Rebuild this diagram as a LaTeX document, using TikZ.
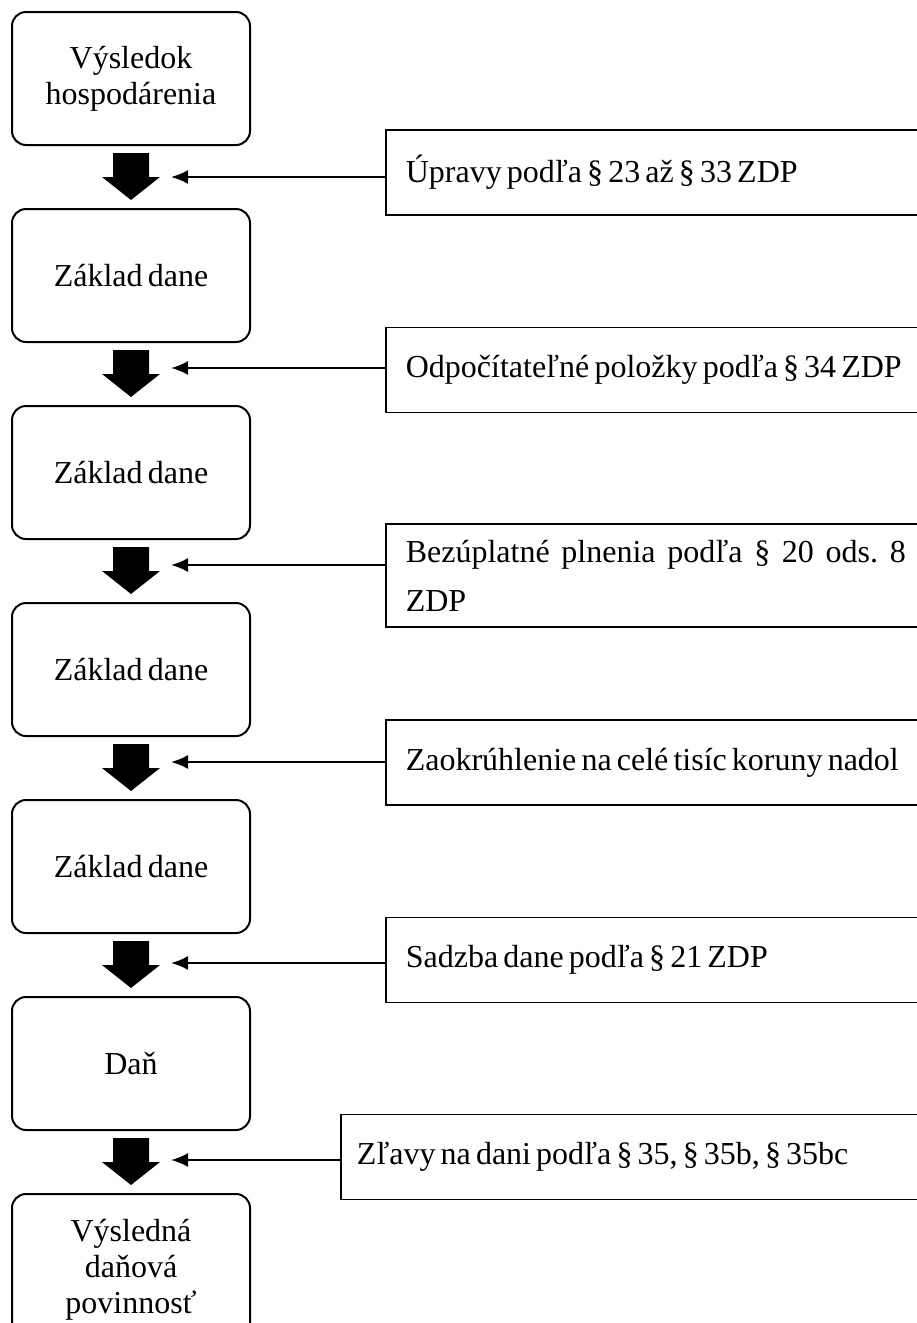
\documentclass[tikz,border=0pt]{standalone}
\usepackage{fontspec}
\setmainfont{Liberation Serif}
\usetikzlibrary{arrows.meta,calc}
\newcommand{\tightsp}{\frenchspacing\spaceskip=0.16em\relax}
\newcommand{\stretchsp}{\frenchspacing\spaceskip=0.16em plus 1em\relax}
\begin{document}
\begin{tikzpicture}[x=1pt,y=-1pt,
  stage/.style={draw, line width=2pt, rounded corners=14pt, minimum width=238pt, minimum height=133pt, align=center, font=\fontsize{32}{36}\selectfont\tightsp, inner sep=0pt},
  note/.style={draw, line width=1.6pt, anchor=west, minimum height=85pt, text width=520pt, inner xsep=20pt, inner ysep=0pt, align=flush left, font=\fontsize{32}{36}\selectfont\tightsp},
  feed/.style={line width=2pt, -{Latex[length=17pt,width=14pt]}},
  blockarrow/.style={fill=black, draw=none}
]
\useasboundingbox (0,0) rectangle (917,1323);
\clip (0,0) rectangle (917,1323);

% main column
\node[stage] (b1) at (131,78.5) {Výsledok\\hospodárenia};
\node[stage] (b2) at (131,275.5) {Základ dane};
\node[stage] (b3) at (131,472.5) {Základ dane};
\node[stage] (b4) at (131,669.5) {Základ dane};
\node[stage] (b5) at (131,866.5) {Základ dane};
\node[stage] (b6) at (131,1063.5) {Daň};
\node[stage, minimum height=152pt] (b7) at (131,1270) {Výsledná\\daňová\\povinnosť};

% side notes
\node[note] (n1) at (385,172.5) {Úpravy podľa § 23 až § 33 ZDP};
\node[note] (n2) at (385,370) {Odpočítateľné položky podľa § 34 ZDP};
\node[note, text width=500pt, minimum height=103pt, align=justify, font=\fontsize{32}{49}\selectfont\stretchsp] (n3) at (385,575.5) {\tolerance=10000 Bezúplatné plnenia podľa § 20 ods. 8 ZDP};
\node[note] (n4) at (385,762.5) {Zaokrúhlenie na celé tisíc koruny nadol};
\node[note] (n5) at (385,960) {Sadzba dane podľa § 21 ZDP};
\node[note, text width=560pt, inner xsep=16pt] (n6) at (340,1157) {Zľavy na dani podľa § 35, § 35b, § 35bc};

% block arrows
\foreach \a/\b in {b1/b2,b2/b3,b3/b4,b4/b5,b5/b6,b6/b7}{
  \fill[blockarrow] ($(\a.south)+(-18,7)$) -- ($(\a.south)+(18,7)$) -- ($(\a.south)+(18,31)$)
    -- ($(\a.south)+(29,31)$) -- ($(\b.north)+(0,-8)$) -- ($(\a.south)+(-29,31)$)
    -- ($(\a.south)+(-18,31)$) -- cycle;
}

% thin feed arrows
\coordinate (t1) at (171,177);
\coordinate (t2) at (171,368);
\coordinate (t3) at (171,565);
\coordinate (t4) at (171,762);
\coordinate (t5) at (171,963);
\coordinate (t6) at (171,1160);
\foreach \i in {1,...,6}{
  \draw[feed] (t\i -| n\i.west) -- (t\i);
}
\end{tikzpicture}
\end{document}
